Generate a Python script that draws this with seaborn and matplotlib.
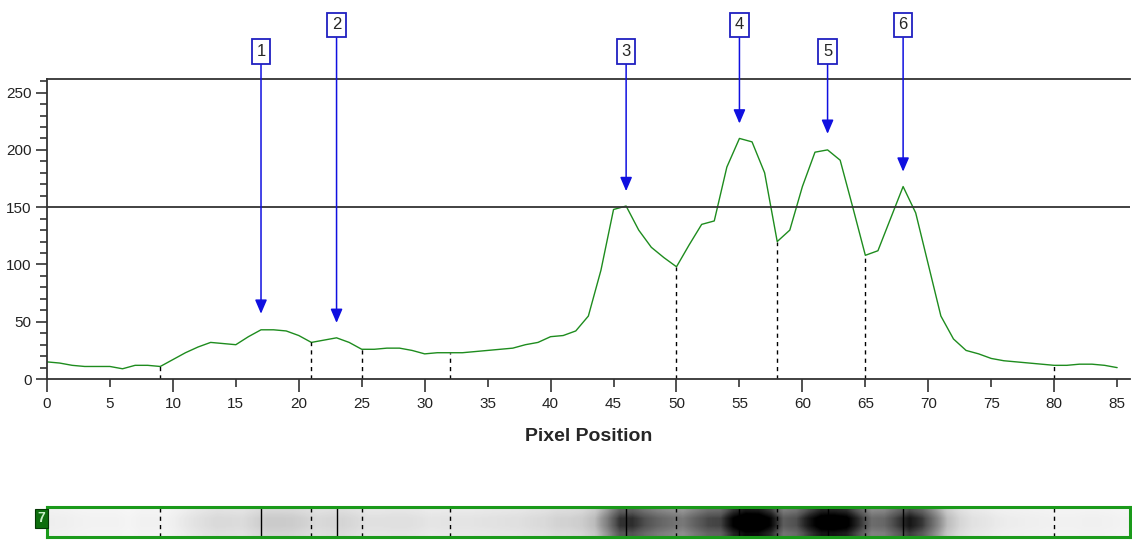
import matplotlib
matplotlib.use("Agg")
import matplotlib.pyplot as plt
from matplotlib.ticker import MultipleLocator, FormatStrFormatter
from matplotlib.colors import PowerNorm
import seaborn as sns
import numpy as np
import pandas as pd

# profile intensity per pixel position
positions = list(range(86))
intensity = [15, 14, 12, 11, 11, 11, 9, 12, 12, 11,
             17, 23, 28, 32, 31, 30, 37, 43, 43, 42,
             38, 32, 34, 36, 32, 26, 26, 27, 27, 25,
             22, 23, 23, 23, 24, 25, 26, 27, 30, 32,
             37, 38, 42, 55, 95, 148, 151, 130, 115, 106,
             98, 117, 135, 138, 185, 210, 207, 180, 120, 130,
             168, 198, 200, 191, 150, 108, 112, 140, 168, 145,
             100, 55, 35, 25, 22, 18, 16, 15, 14, 13,
             12, 12, 13, 13, 12, 10]

# band peaks and the valleys that separate them
peak_labels = ["1", "2", "3", "4", "5", "6"]
peak_pos = [17, 23, 46, 55, 62, 68]
arrow_tip = [57, 49, 164, 223, 214, 181]
label_y = [286, 309, 286, 309, 286, 309]
valley_pos = [9, 21, 25, 32, 50, 58, 65, 80]
threshold = 150
lane_label = "7"

sns.set_style("white")
plt.rcParams["font.family"] = ["Liberation Sans", "DejaVu Sans"]

df = pd.DataFrame({"pos": positions, "val": intensity})

fig = plt.figure(figsize=(11.32, 5.4), dpi=100)
ax = fig.add_axes([0.0415, 0.298, 0.9565, 0.556])
strip = fig.add_axes([0.0415, 0.006, 0.9565, 0.055])

line_col = "#333333"
sns.lineplot(data=df, x="pos", y="val", ax=ax, color="#1e8c1e", linewidth=1.0)

ax.axhline(threshold, color=line_col, linewidth=1.3)
ax.vlines(valley_pos, 0, [intensity[v] for v in valley_pos],
          colors="black", linestyles=(0, (3, 3)), linewidth=1.0)

for lab, px, tip, ly in zip(peak_labels, peak_pos, arrow_tip, label_y):
    ax.annotate(lab, xy=(px, tip), xytext=(px, ly), ha="center", va="center",
                fontsize=12, annotation_clip=False,
                bbox=dict(boxstyle="square,pad=0.28", fc="white", ec="#2020c0", lw=1.3),
                arrowprops=dict(arrowstyle="-|>,head_length=0.7,head_width=0.3",
                                color="#1010e0", lw=1.1, shrinkA=0, shrinkB=0))

ax.set_xlim(0, 86)
ax.set_ylim(0, 262)
ax.xaxis.set_major_locator(MultipleLocator(10))
ax.xaxis.set_minor_locator(MultipleLocator(5))
ax.xaxis.set_major_formatter(FormatStrFormatter("%d"))
ax.xaxis.set_minor_formatter(FormatStrFormatter("%d"))
ax.yaxis.set_major_locator(MultipleLocator(50))
ax.yaxis.set_minor_locator(MultipleLocator(10))
ax.tick_params(axis="both", which="both", direction="out", colors=line_col,
               labelcolor="#222222", labelsize=11, width=1.2,
               bottom=True, left=True, top=False, right=False)
ax.tick_params(axis="x", which="major", length=9, pad=4)
ax.tick_params(axis="x", which="minor", length=6, pad=7)
ax.tick_params(axis="y", which="major", length=8, pad=3)
ax.tick_params(axis="y", which="minor", length=5)
for side in ["left", "bottom", "top"]:
    ax.spines[side].set_color(line_col)
    ax.spines[side].set_linewidth(1.3)
ax.spines["right"].set_visible(False)
ax.set_xlabel("Pixel Position", fontsize=14, fontweight="bold", labelpad=12)
ax.set_ylabel("")

# lane image built from the profile
lane = np.tile(np.array(intensity, dtype=float), (4, 1)) * np.array([[0.8], [1.0], [1.0], [0.85]])
strip.imshow(lane, cmap="Greys", norm=PowerNorm(gamma=0.8, vmin=0, vmax=185), aspect="auto",
             extent=[0, 86, 0, 1], interpolation="bilinear")
strip.vlines(valley_pos, 0, 1, colors="black", linestyles=(0, (3, 3)), linewidth=1.0)
strip.vlines(peak_pos, 0, 1, colors="black", linewidth=1.0)
strip.set_xlim(0, 86)
strip.set_ylim(0, 1)
strip.set_xticks([])
strip.set_yticks([])
for s in strip.spines.values():
    s.set_color("#1a9a1a")
    s.set_linewidth(2.2)
strip.text(-0.42, 0.62, lane_label, transform=strip.transData, ha="center", va="center",
           color="#c8f0c8", fontsize=10, fontweight="bold", clip_on=False,
           bbox=dict(boxstyle="square,pad=0.2", fc="#0e6e0e", ec="#053805", lw=0.8))

fig.savefig("out.png", dpi=100)
